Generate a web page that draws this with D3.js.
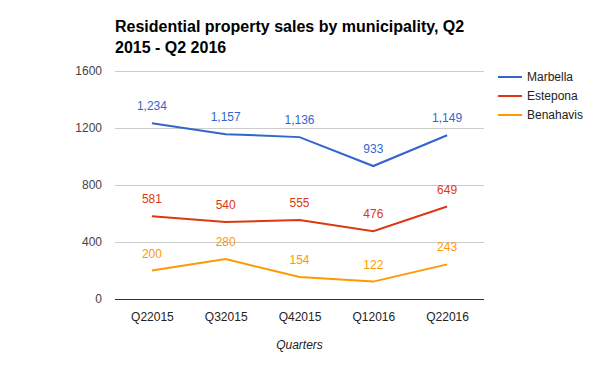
<!DOCTYPE html>
<html lang="en">
<head>
  <meta charset="utf-8">
  <title>Residential property sales by municipality</title>
  <script src="https://cdn.jsdelivr.net/npm/d3@7"></script>
  <style>
    body { margin: 0; background: #fff; }
    svg { display: block; font-family: Arial, "Liberation Sans", sans-serif; }
  </style>
</head>
<body>
<div id="chart"></div>
<script>
  // quarters on the x axis
  const quarters = ["Q22015", "Q32015", "Q42015", "Q12016", "Q22016"];
  // sales per municipality
  const marbella = [1234, 1157, 1136, 933, 1149];
  const estepona = [581, 540, 555, 476, 649];
  const benahavis = [200, 280, 154, 122, 243];
  const seriesNames = ["Marbella", "Estepona", "Benahavis"];
  const seriesColors = ["#3366cc", "#dc3912", "#ff9900"];
  const yTicks = [0, 400, 800, 1200, 1600];

  const series = [marbella, estepona, benahavis].map((vals, i) => ({
    name: seriesNames[i], color: seriesColors[i], values: vals
  }));

  const width = 600, height = 371;
  const plotLeft = 115, plotRight = 484, plotTop = 71, plotBottom = 299;

  const svg = d3.select("#chart").append("svg")
    .attr("width", width).attr("height", height);

  const x = d3.scalePoint().domain(quarters).range([plotLeft, plotRight]).padding(0.5);
  const y = d3.scaleLinear().domain([0, 1600]).range([plotBottom, plotTop]);

  // title
  const title = svg.append("text")
    .attr("x", plotLeft).attr("y", 32)
    .attr("font-size", 16).attr("font-weight", "bold").attr("fill", "#000");
  title.append("tspan").attr("x", plotLeft).text("Residential property sales by municipality, Q2");
  title.append("tspan").attr("x", plotLeft).attr("dy", 21).text("2015 - Q2 2016");

  // gridlines
  svg.append("g").selectAll("line")
    .data(yTicks.filter(d => d > 0))
    .join("line")
    .attr("x1", plotLeft).attr("x2", plotRight)
    .attr("y1", d => y(d)).attr("y2", d => y(d))
    .attr("stroke", "#cccccc").attr("stroke-width", 1)
    .attr("shape-rendering", "crispEdges");

  // y axis labels
  const yAxis = svg.append("g")
    .attr("transform", `translate(${plotLeft},0)`)
    .call(d3.axisLeft(y).tickValues(yTicks).tickSize(0).tickPadding(13).tickFormat(d3.format("d")));
  yAxis.select(".domain").remove();
  yAxis.selectAll("text").attr("font-size", 12).attr("fill", "#444")
    .attr("font-family", "Arial, 'Liberation Sans', sans-serif");

  // x axis
  const xAxis = svg.append("g")
    .attr("transform", `translate(0,${plotBottom})`)
    .call(d3.axisBottom(x).tickSize(0).tickPadding(13));
  xAxis.select(".domain").remove();
  xAxis.selectAll("text").attr("font-size", 12).attr("fill", "#222")
    .attr("font-family", "Arial, 'Liberation Sans', sans-serif");

  svg.append("line")
    .attr("x1", plotLeft).attr("x2", plotRight)
    .attr("y1", y(0)).attr("y2", y(0))
    .attr("stroke", "#333").attr("stroke-width", 1)
    .attr("shape-rendering", "crispEdges");

  svg.append("text")
    .attr("x", (plotLeft + plotRight) / 2).attr("y", 349)
    .attr("text-anchor", "middle").attr("font-size", 12)
    .attr("font-style", "italic").attr("fill", "#222")
    .text("Quarters");

  // lines
  const line = d3.line()
    .x((d, i) => x(quarters[i]))
    .y(d => y(d));

  series.forEach(s => {
    svg.append("path")
      .datum(s.values)
      .attr("fill", "none")
      .attr("stroke", s.color)
      .attr("stroke-width", 2)
      .attr("d", line);

    svg.append("g").selectAll("text")
      .data(s.values)
      .join("text")
      .attr("x", (d, i) => x(quarters[i]))
      .attr("y", d => y(d) - 13)
      .attr("text-anchor", "middle")
      .attr("font-size", 12)
      .attr("fill", s.color)
      .text(d => d3.format(",")(d));
  });

  // legend
  const legend = svg.append("g").selectAll("g")
    .data(series)
    .join("g")
    .attr("transform", (d, i) => `translate(498,${77 + i * 19})`);
  legend.append("line")
    .attr("x1", 0).attr("x2", 24)
    .attr("stroke", d => d.color).attr("stroke-width", 2);
  legend.append("text")
    .attr("x", 29).attr("dy", "0.35em")
    .attr("font-size", 12).attr("fill", "#222")
    .text(d => d.name);
</script>
</body>
</html>
